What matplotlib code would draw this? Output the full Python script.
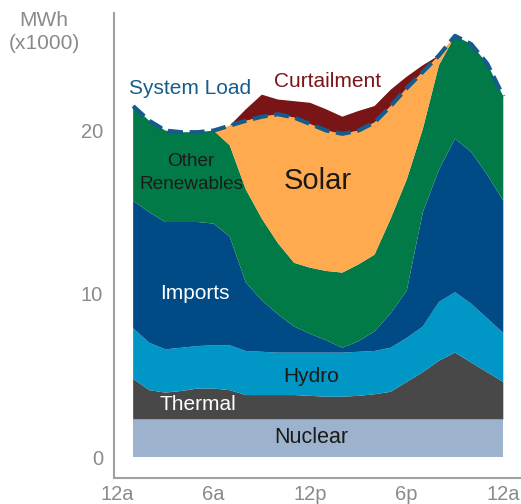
import matplotlib
matplotlib.use('Agg')
import matplotlib.pyplot as plt
import numpy as np

plt.rcParams['font.family'] = ['Liberation Sans', 'DejaVu Sans']

# hour ending, 1..24
hours = list(range(1, 25))

# MWh (x1000) per source
nuclear = [2.3] * 24
thermal = [2.5, 1.8, 1.65, 1.75, 1.9, 1.9, 1.8, 1.5, 1.5, 1.5, 1.5, 1.45,
           1.4, 1.4, 1.45, 1.55, 1.7, 2.3, 2.9, 3.6, 4.1, 3.5, 2.9, 2.3]
hydro = [3.1, 2.9, 2.65, 2.65, 2.6, 2.65, 2.75, 2.7, 2.65, 2.6, 2.6, 2.65,
         2.7, 2.7, 2.7, 2.65, 2.7, 2.7, 2.8, 3.6, 3.7, 3.6, 3.3, 3.0]
imports = [7.8, 8.0, 7.8, 7.7, 7.6, 7.45, 6.65, 4.2, 3.15, 2.35, 1.6, 1.15,
           0.75, 0.3, 0.65, 1.2, 2.1, 2.9, 7.0, 8.1, 9.4, 9.3, 8.8, 8.1]
other_renew = [5.8, 5.6, 5.6, 5.5, 5.5, 5.7, 5.6, 5.7, 5.0, 4.35, 3.9, 4.05,
               4.25, 4.6, 4.7, 4.7, 5.8, 6.8, 5.1, 6.4, 6.3, 6.6, 6.8, 6.4]
solar = [0, 0, 0, 0, 0, 0, 1.2, 4.2, 6.25, 7.9, 8.9, 8.8,
         8.6, 8.5, 8.2, 8.1, 6.9, 5.6, 3.5, 0.6, 0, 0, 0, 0]
curtailment = [0, 0, 0, 0, 0, 0, 0, 0.7, 1.35, 0.9, 1.0, 1.3,
               1.3, 1.05, 1.2, 1.0, 1.0, 0.7, 0.4, 0, 0, 0, 0, 0]

xtick_pos = [0, 6, 12, 18, 24]
xtick_labels = ['12a', '6a', '12p', '6p', '12a']
ytick_pos = [0, 10, 20]

colors = ['#9db2cd', '#484848', '#0096c6', '#004a86', '#027a48',
          '#ffaa4e', '#7a1517']

fig = plt.figure(figsize=(5.21, 5.04), dpi=100)
ax = fig.add_axes([0.2188, 0.0516, 0.7812, 0.9226])

layers = [nuclear, thermal, hydro, imports, other_renew, solar, curtailment]
ax.stackplot(hours, *layers, colors=colors, linewidth=0)

load = np.sum(np.array(layers[:6]), axis=0)
ax.plot(hours, load, color='#155b8c', lw=3, dashes=(3.6, 1.6))

ax.set_xlim(-0.19, 25.1)
ax.set_ylim(-1.28, 27.2)

ax.set_xticks(xtick_pos)
ax.set_xticklabels(xtick_labels)
ax.set_yticks(ytick_pos)
ax.tick_params(length=0, labelsize=14.5, colors='#8a8a8a')
ax.tick_params(axis='y', pad=8)
ax.tick_params(axis='x', pad=5)
for s in ['top', 'right']:
    ax.spines[s].set_visible(False)
for s in ['left', 'bottom']:
    ax.spines[s].set_color('#a0a0a0')
    ax.spines[s].set_linewidth(1.5)

fig.text(44/521, 1 - 32/504, 'MWh\n(x1000)', ha='center', va='center',
         fontsize=15, color='#8a8a8a', linespacing=1.25)

ax.text(4.55, 22.6, 'System Load', ha='center', va='center', fontsize=15,
        color='#165d8e')
ax.text(13.1, 23.0, 'Curtailment', ha='center', va='center', fontsize=15,
        color='#7a1517')
ax.text(4.6, 17.4, 'Other\nRenewables', ha='center', va='center',
        fontsize=13.7, color='#1a1a1a', linespacing=1.4)
ax.text(12.5, 16.9, 'Solar', ha='center', va='center', fontsize=21,
        color='#1a1a1a')
ax.text(4.85, 10.0, 'Imports', ha='center', va='center', fontsize=15,
        color='white')
ax.text(12.05, 4.95, 'Hydro', ha='center', va='center', fontsize=15,
        color='#1a1a1a')
ax.text(5.0, 3.2, 'Thermal', ha='center', va='center', fontsize=15,
        color='white')
ax.text(12.05, 1.2, 'Nuclear', ha='center', va='center', fontsize=15.5,
        color='#1a1a1a')

fig.savefig('out.png', dpi=100)
